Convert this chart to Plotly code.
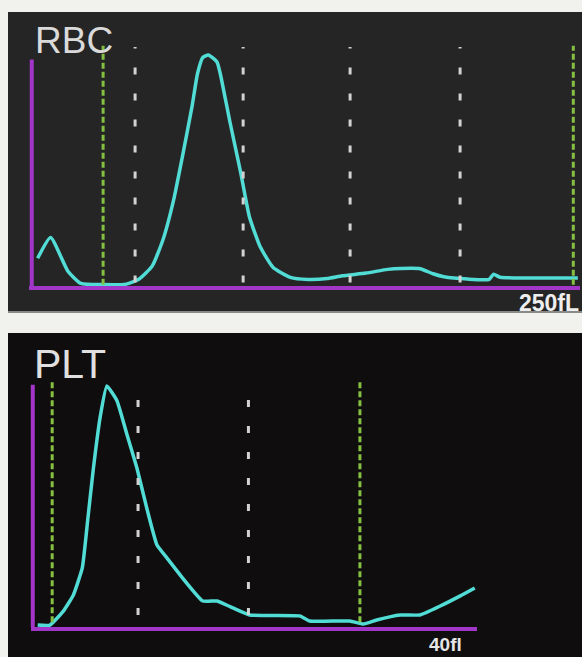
import plotly.graph_objects as go

W, H = 582, 657

# RBC histogram (volume in fL vs relative count)
rbc_fl = [4, 10, 18, 24, 34, 45, 51, 57, 62, 67, 71, 75.5, 78, 80.5, 83, 87, 88.5,
          93, 98, 102, 107, 113, 121, 129, 138, 145, 156, 166, 172, 181, 187, 192,
          203, 213, 215, 218, 254]
rbc_count = [12, 21, 6.4, 1.1, 0.6, 0.8, 3, 8.6, 20, 37.5, 56, 78, 92, 99, 100, 97, 92,
             71, 49, 30, 17, 8, 3.7, 2.8, 3.2, 4.4, 5.6, 7.2, 7.6, 7.5, 5.3, 4,
             3, 2.9, 5.1, 3.8, 3.5]
rbc_discriminators = [34.3, 251.9]
rbc_gridlines = [49.1, 99.1, 148.6, 199.5]

# PLT histogram
plt_fl = [0.6, 1.7, 2.9, 3.8, 4.6, 5.1, 5.6, 6.2, 6.8, 7.7, 8.6, 9.5, 10.4, 11.3, 12.2,
          13.6, 15.4, 16.7, 18.1, 19.6, 24.1, 25.0, 28.6, 29.8, 31.0, 33.1, 34.9, 36.7,
          38.5, 39.8]
plt_count = [0.8, 0.8, 6.6, 13.3, 24.5, 45, 66, 87, 100, 94, 80, 66, 49, 34, 28.6,
             20.3, 10.8, 10.8, 7.9, 5.0, 4.6, 2.5, 2.5, 1.2, 2.9, 5.0, 5.0, 8.7,
             12.9, 16.2]
plt_discriminators = [1.9, 29.5]
plt_gridlines = [9.6, 19.5]

CYAN = "#52dcd6"
PURPLE = "#a236c8"
GREEN = "#86c043"
WHITE_DASH = "#d2d2d2"
FONT = "Liberation Sans, Arial, sans-serif"

fig = go.Figure()
fig.add_trace(go.Scatter(x=rbc_fl, y=rbc_count, mode="lines",
                         line=dict(color=CYAN, width=3.5, shape="spline", smoothing=0.5),
                         xaxis="x", yaxis="y"))
fig.add_trace(go.Scatter(x=plt_fl, y=plt_count, mode="lines",
                         line=dict(color=CYAN, width=3.5, shape="spline", smoothing=0.4),
                         xaxis="x2", yaxis="y2"))

shapes = [
    # dark panels
    dict(type="rect", xref="paper", yref="paper", x0=8 / W, x1=1, y0=1 - 312 / H, y1=1 - 12 / H,
         fillcolor="#252525", line=dict(width=0), layer="below"),
    dict(type="rect", xref="paper", yref="paper", x0=8 / W, x1=1, y0=0, y1=1 - 333 / H,
         fillcolor="#0f0d0d", line=dict(width=0), layer="below"),
    dict(type="line", xref="paper", yref="paper", x0=8 / W, x1=1, y0=1 - 312 / H, y1=1 - 312 / H,
         line=dict(color="#8a8a88", width=2), layer="below"),
]

for v in rbc_gridlines:
    shapes.append(dict(type="line", xref="x", yref="y", x0=v, x1=v, y0=1.5, y1=103.5,
                       line=dict(color=WHITE_DASH, width=3, dash="7px,19px")))
for v in rbc_discriminators:
    shapes.append(dict(type="line", xref="x", yref="y", x0=v, x1=v, y0=0.5, y1=104,
                       line=dict(color=GREEN, width=3, dash="6px,3px")))
for v in plt_gridlines:
    shapes.append(dict(type="line", xref="x2", yref="y2", x0=v, x1=v, y0=5, y1=101,
                       line=dict(color=WHITE_DASH, width=3, dash="7px,19px")))
for v in plt_discriminators:
    shapes.append(dict(type="line", xref="x2", yref="y2", x0=v, x1=v, y0=2, y1=102,
                       line=dict(color=GREEN, width=3, dash="6px,3px")))

# vertical purple axes
shapes.append(dict(type="line", xref="x domain", yref="y", x0=0.005, x1=0.005, y0=-5, y1=98,
                   line=dict(color=PURPLE, width=4)))
shapes.append(dict(type="line", xref="x2 domain", yref="y2", x0=0.004, x1=0.004, y0=-5, y1=100.5,
                   line=dict(color=PURPLE, width=4)))

ax_common = dict(showgrid=False, zeroline=False, showticklabels=False, ticks="",
                 fixedrange=True)

fig.update_layout(
    width=W, height=H, margin=dict(l=0, r=0, t=0, b=0),
    paper_bgcolor="#f1f1ee", plot_bgcolor="rgba(0,0,0,0)", showlegend=False,
    xaxis=dict(domain=[29 / W, 580 / W], range=[0, 255], anchor="y", showline=True,
               linecolor=PURPLE, linewidth=4, layer="below traces", **ax_common),
    yaxis=dict(domain=[1 - 286 / H, 1 - 43.45 / H], range=[0, 105], anchor="x",
               showline=False, **ax_common),
    xaxis2=dict(domain=[31 / W, 477 / W], range=[0, 40], anchor="y2", showline=True,
                linecolor=PURPLE, linewidth=4, layer="below traces", **ax_common),
    yaxis2=dict(domain=[1 - 627 / H, 1 - 374 / H], range=[0, 105], anchor="x2",
                showline=False, **ax_common),
    shapes=shapes,
    annotations=[
        dict(text="RBC", xref="paper", yref="paper", x=33 / W, y=1 - 40.5 / H,
             xanchor="left", yanchor="middle", showarrow=False,
             font=dict(family=FONT, size=37, color="#dadada")),
        dict(text="PLT", xref="paper", yref="paper", x=32 / W, y=1 - 364 / H,
             xanchor="left", yanchor="middle", showarrow=False,
             font=dict(family=FONT, size=41, color="#e0e0e0")),
        dict(text="250fL", xref="paper", yref="paper", x=581 / W, y=1 - 302.5 / H,
             xanchor="right", yanchor="middle", showarrow=False,
             font=dict(family=FONT, size=23, color="#eeeeee", weight=700)),
        dict(text="40fl", xref="paper", yref="paper", x=427 / W, y=0.5 / H,
             xanchor="left", yanchor="bottom", showarrow=False,
             font=dict(family=FONT, size=19, color="#e6e6e6", weight=700)),
    ],
)

fig.write_html("out.html", config={"displayModeBar": False},
               post_script="document.body.style.margin='0';")
